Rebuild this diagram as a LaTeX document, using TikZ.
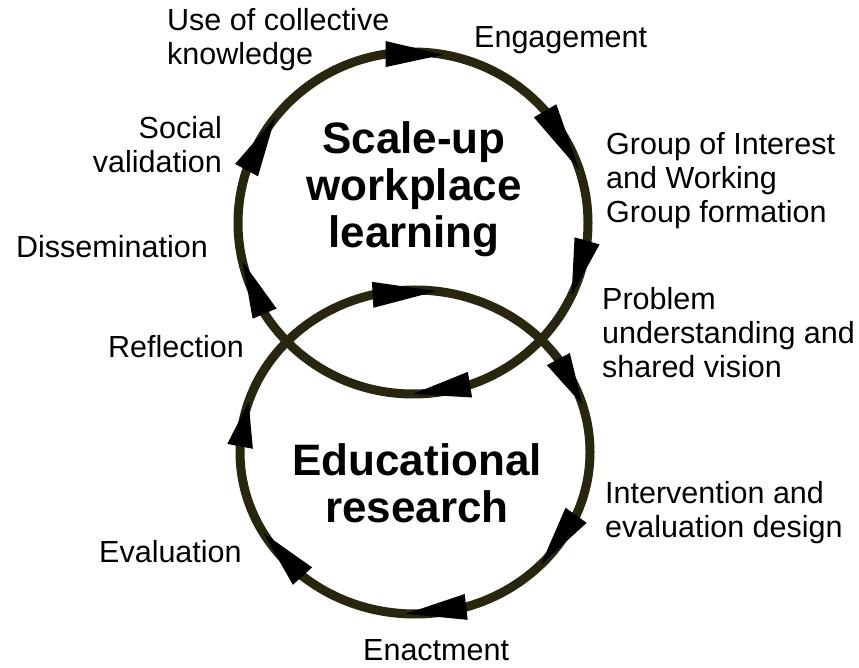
\documentclass[tikz,border=0pt]{standalone}
\usepackage{fontspec}
\setmainfont{Liberation Sans}
\usetikzlibrary{calc}
\definecolor{ringolive}{RGB}{40, 38, 14}

% chord arrow head on a ring: centre, x radius, y radius, back angle, tip angle
\newcommand{\ringarrow}[5]{%
  \path (#1) ++(#4:#2pt and #3pt) coordinate (tail)
        (#1) ++(#5:#2pt and #3pt) coordinate (head);
  \fill[tipfill] ($(tail)!13pt!90:(head)$) -- (head) -- ($(tail)!13pt!-90:(head)$) -- cycle;}

\begin{document}
\begin{tikzpicture}[
    x=1pt, y=1pt,
    ring/.style={draw=ringolive, line width=9pt},
    tipfill/.style={fill=black},
    stagetext/.style={anchor=base west, inner sep=0pt, align=left, font=\fontsize{30.5}{34}\selectfont},
    cycletitle/.style={anchor=base, inner sep=0pt, align=center, font=\fontsize{44}{47}\selectfont\bfseries}
]
\useasboundingbox (0,0) rectangle (859,667);

% Rings
\coordinate (upper) at (413,444);
\coordinate (lower) at (415,215);
\draw[ring] (upper) ellipse [x radius=175pt, y radius=171pt];
\draw[ring] (lower) ellipse [x radius=175pt, y radius=162pt];

% Arrow heads, upper ring
\ringarrow{upper}{175}{171}{99}{80}
\ringarrow{upper}{175}{171}{41}{18}
\ringarrow{upper}{175}{171}{-6}{-25}
\ringarrow{upper}{175}{171}{-71}{-90}
\ringarrow{upper}{175}{171}{-148}{-167}
\ringarrow{upper}{175}{171}{162}{142}

% Arrow heads, lower ring
\ringarrow{lower}{175}{162}{104}{83}
\ringarrow{lower}{175}{162}{35}{17}
\ringarrow{lower}{175}{162}{-23}{-44}
\ringarrow{lower}{175}{162}{-73}{-93}
\ringarrow{lower}{175}{162}{-130}{-150}
\ringarrow{lower}{175}{162}{178}{162}

% Titles
\node[cycletitle] (scaleup) at (414,419) {Scale-up\\workplace\\learning};
\node[cycletitle] (edures) at (417,145) {Educational\\research};

% Stages
\node[stagetext] (collective) at (167,602) {Use of collective\\knowledge};
\node[stagetext] (engagement) at (474,619) {Engagement};
\node[stagetext] (groups) at (606,444) {Group of Interest\\and Working\\Group formation};
\node[stagetext] (problem) at (602,289) {Problem\\understanding and\\shared vision};
\node[stagetext] (intervention) at (605,130) {Intervention and\\evaluation design};
\node[stagetext] (enactment) at (363,7) {Enactment};
\node[stagetext] (evaluation) at (99,105) {Evaluation};
\node[stagetext] (reflection) at (108,309) {Reflection};
\node[stagetext] (dissemination) at (16,409) {Dissemination};
\node[stagetext, anchor=base east, align=right] (social) at (222,494) {Social\\validation};

\end{tikzpicture}
\end{document}
